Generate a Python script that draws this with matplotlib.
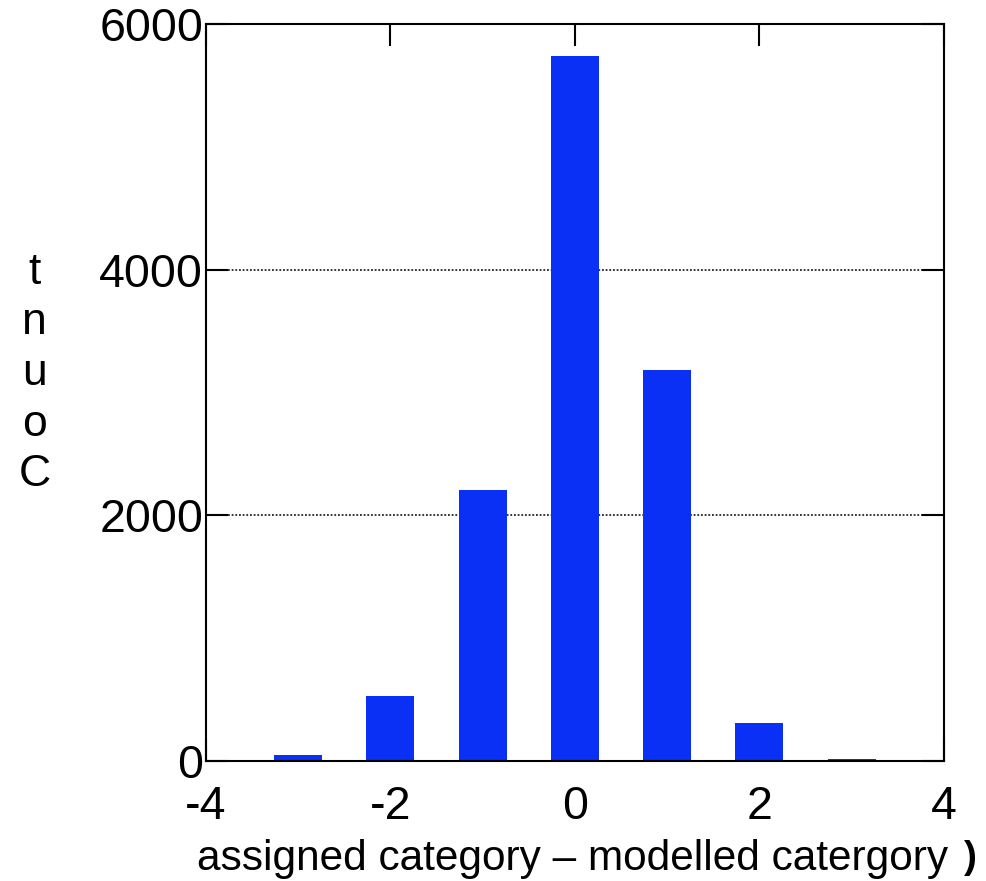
import matplotlib
matplotlib.use("Agg")
import matplotlib.pyplot as plt

# difference between assigned and modelled category, and how often it occurs
differences = [-3, -2, -1, 0, 1, 2, 3]
counts = [49, 530, 2205, 5740, 3185, 313, 16]
x_ticks = [-4, -2, 0, 2, 4]
y_ticks = [0, 2000, 4000, 6000]

plt.rcParams['font.family'] = ['Liberation Sans', 'DejaVu Sans']

fig = plt.figure(figsize=(9.87, 8.81), dpi=100)
ax = fig.add_axes([0.2087, 0.1362, 0.7477, 0.8366])

# dotted reference lines behind the bars
for y in y_ticks[1:-1]:
    ax.axhline(y, color='black', lw=1.1, ls=(0, (1.2, 1.2)), zorder=1)

ax.bar(differences, counts, width=0.52, color='#0a2ff5', zorder=2)

ax.set_xlim(-4, 4)
ax.set_ylim(0, 6000)
ax.set_xticks(x_ticks)
ax.set_yticks(y_ticks)
ax.set_xticklabels([str(t) for t in x_ticks])
ax.set_yticklabels([str(t) for t in y_ticks])

ax.tick_params(axis='both', direction='in', length=16, width=1.5,
               top=True, right=True, labelsize=33.5)
ax.tick_params(axis='x', pad=17)
ax.tick_params(axis='y', pad=2)
for sp in ax.spines.values():
    sp.set_linewidth(1.5)
    sp.set_zorder(3)

ax.set_xlabel('assigned category – modelled catergory', fontsize=30.5)
ax.xaxis.set_label_coords(0.4965, -0.106)

# y label with upright letters stacked bottom to top
fig.text(0.035, 0.576, 't\nn\nu\no\nC', fontsize=32, ha='center', va='center',
         linespacing=1.3)

# stray glyph cut off at the right edge
fig.text(0.983, 0.026, ')', fontsize=28, ha='center', va='center',
         fontweight='bold')

fig.savefig('out.png', dpi=100)
